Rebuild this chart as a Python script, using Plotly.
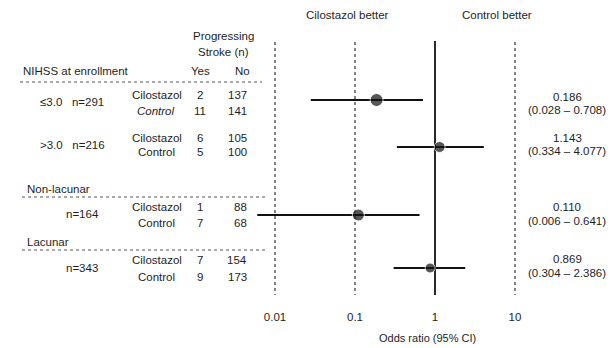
import plotly.graph_objects as go

# ---- data ----
group_labels = ["≤3.0   n=291", ">3.0   n=216", "n=164", "n=343"]
section_labels = ["NIHSS at enrollment", "Non-lacunar", "Lacunar"]
treat_names = ["Cilostazol", "Cilostazol", "Cilostazol", "Cilostazol"]
ctrl_names = ["<i>Control</i>", "Control", "Control", "Control"]
cil_yes = [2, 6, 1, 7]
cil_no = [137, 105, 88, 154]
ctrl_yes = [11, 5, 7, 9]
ctrl_no = [141, 100, 68, 173]
odds_ratio = [0.186, 1.143, 0.110, 0.869]
ci_low = [0.028, 0.334, 0.006, 0.304]
ci_high = [0.708, 4.077, 0.641, 2.386]
tick_vals = [0.01, 0.1, 1, 10]
tick_text = ["0.01", "0.1", "1", "10"]

# ---- layout (page pixel coordinates; page body has an 8px offset) ----
OFF = 8
W, H = 614 - OFF, 348 - OFF
PH = 290  # plot-area height in figure px
point_y = [100, 147, 215, 268]
cil_y = [95, 138, 207, 260]
ctrl_y = [111, 152, 223, 277]
group_y = [102, 145, 214, 268]
group_x = [72, 72, 82, 82]
or_y = [97, 138, 207, 259]
ci_y = [110, 151, 221, 273]
section_y = [71, 189, 242]
section_x = [21, 25, 25]

FONT = "Liberation Sans, Arial, sans-serif"
TXT = "#1e1e1e"
fs = 11.5

fig = go.Figure()

# reference lines at tick values
for v in tick_vals:
    if v == 1:
        fig.add_trace(go.Scatter(x=[v, v], y=[41, 295], mode="lines",
                                 line=dict(color="#111", width=1.8),
                                 hoverinfo="skip", showlegend=False))
    else:
        fig.add_trace(go.Scatter(x=[v, v], y=[42, 295], mode="lines",
                                 line=dict(color="#333", width=1.2, dash="dot"),
                                 hoverinfo="skip", showlegend=False))

# CI lines
for lo, hi, y in zip(ci_low, ci_high, point_y):
    fig.add_trace(go.Scatter(x=[lo, hi], y=[y, y], mode="lines",
                             line=dict(color="#111", width=2),
                             hoverinfo="skip", showlegend=False))

# point estimates
fig.add_trace(go.Scatter(x=odds_ratio, y=point_y, mode="markers",
                         marker=dict(color="#111", size=[13, 11, 12, 10]),
                         showlegend=False))

ann = []
def px(x):
    return (x - OFF) / W

def add(text, x, y, xanchor="center", size=fs):
    ann.append(dict(text=text, x=px(x), y=y, xref="paper", yref="y",
                    xanchor=xanchor, yanchor="middle", showarrow=False,
                    font=dict(family=FONT, size=size, color=TXT)))

# header texts
add("Cilostazol better", 347, 15)
add("Control better", 497, 15)
add("Progressing", 223, 36)
add("Stroke (n)", 223, 52)
add("Yes", 200, 71)
add("No", 243, 71)
for s, sx, sy in zip(section_labels, section_x, section_y):
    add(s, sx, sy, "left")

for i in range(4):
    add(group_labels[i], group_x[i], group_y[i])
    add(treat_names[i], 157, cil_y[i])
    add(ctrl_names[i], 156, ctrl_y[i])
    add(str(cil_yes[i]), 200, cil_y[i])
    add(str(ctrl_yes[i]), 200, ctrl_y[i])
    add(str(cil_no[i]), 249, cil_y[i], "right")
    add(str(ctrl_no[i]), 249, ctrl_y[i], "right")
    add(f"{odds_ratio[i]:.3f}", 567, or_y[i])
    add(f"({ci_low[i]:.3f} – {ci_high[i]:.3f})", 567, ci_y[i])

# x-axis title
ann.append(dict(text="Odds ratio (95% CI)", x=px(428), y=(PH - (338 - OFF)) / PH,
                xref="paper", yref="paper", xanchor="center", yanchor="middle",
                showarrow=False, font=dict(family=FONT, size=fs - 0.5, color=TXT)))

shapes = []
for y, x0, x1 in [(82, 20, 262), (197, 22, 265), (250, 22, 268)]:
    shapes.append(dict(type="line", xref="paper", yref="y", x0=px(x0), x1=px(x1),
                       y0=y, y1=y, line=dict(color="#555", width=1, dash="dot")))

# x mapping: page x 275 -> 0.01, 80 px per decade
fig.update_layout(
    width=W, height=H,
    margin=dict(l=0, r=0, t=0, b=H - PH),
    paper_bgcolor="white", plot_bgcolor="white",
    annotations=ann, shapes=shapes,
    xaxis=dict(type="log", range=[-2 + (OFF - 275) / 80, -2 + (614 - 275) / 80],
               tickvals=tick_vals, ticktext=tick_text,
               showgrid=False, zeroline=False, showline=False,
               ticks="outside", ticklen=8, tickcolor="rgba(0,0,0,0)",
               tickfont=dict(family=FONT, size=fs, color=TXT)),
    yaxis=dict(range=[OFF + PH, OFF], visible=False, showgrid=False, zeroline=False),
)

fig.write_html("out.html")
